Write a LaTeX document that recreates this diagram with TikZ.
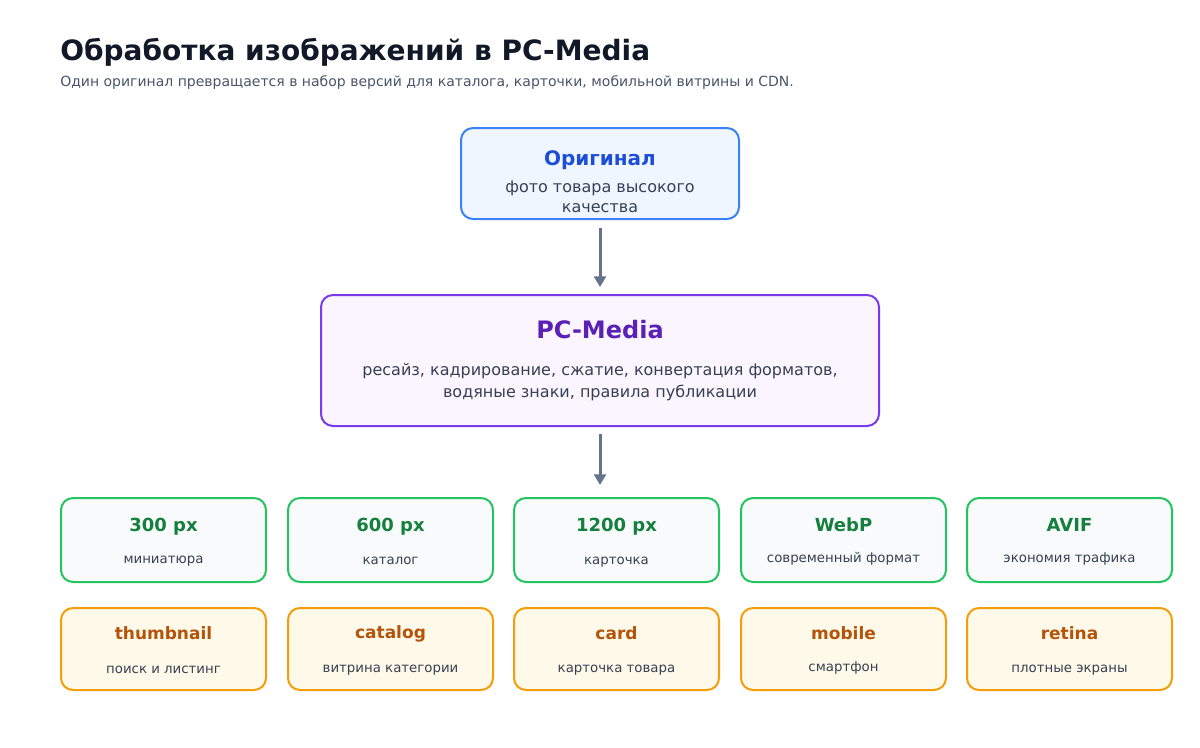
\documentclass[tikz,border=0pt]{standalone}
\usepackage{fontspec}
\setmainfont{DejaVu Sans}
\usetikzlibrary{arrows.meta}

\definecolor{ink}{HTML}{111827}
\definecolor{slate}{HTML}{475569}
\definecolor{body}{HTML}{374151}
\definecolor{arrowgray}{HTML}{64748B}
\definecolor{blueline}{HTML}{3B82F6}
\definecolor{bluefill}{HTML}{EFF6FF}
\definecolor{bluetext}{HTML}{1D4ED8}
\definecolor{violetline}{HTML}{7C3AED}
\definecolor{violetfill}{HTML}{FAF5FF}
\definecolor{violettext}{HTML}{5B21B6}
\definecolor{greenline}{HTML}{22C55E}
\definecolor{greenfill}{HTML}{F8FAFC}
\definecolor{greentext}{HTML}{15803D}
\definecolor{amberline}{HTML}{F59E0B}
\definecolor{amberfill}{HTML}{FEF9E8}
\definecolor{ambertext}{HTML}{B45309}

\tikzset{
  card/.style={draw,rounded corners=9pt,line width=1.5pt,inner sep=0pt},
  sizebox/.style={card,draw=greenline,fill=greenfill,minimum width=153.75pt,minimum height=63pt},
  usebox/.style={card,draw=amberline,fill=amberfill,minimum width=153.75pt,minimum height=61.5pt},
  label/.style={anchor=base,inner sep=0pt},
  sizetitle/.style={label,text=greentext,font=\fontsize{13.5}{16}\selectfont\bfseries},
  usetitle/.style={label,text=ambertext,font=\fontsize{12.75}{15}\selectfont\bfseries},
  cardnote/.style={label,text=body,font=\fontsize{10}{12}\selectfont},
  flow/.style={draw=arrowgray,line width=2.25pt,-{Triangle[width=9pt,length=8pt]}}
}

\begin{document}
\begin{tikzpicture}[x=0.75pt,y=-0.75pt]
    \useasboundingbox (0,0) rectangle (1200,747);

    \node[label,anchor=base west,text=ink,font=\fontsize{21}{25}\selectfont\bfseries] (title) at (60,60) {Обработка изображений в PC-Media};
    \node[label,anchor=base west,text=slate,font=\fontsize{10.5}{13}\selectfont] (subtitle) at (60,86) {Один оригинал превращается в набор версий для каталога, карточки, мобильной витрины и CDN.};

    \node[card,draw=blueline,fill=bluefill,minimum width=208.5pt,minimum height=68.25pt] (orig) at (600,173.5) {};
    \node[label,text=bluetext,font=\fontsize{15}{18}\selectfont\bfseries] (origtitle) at (600,165) {Оригинал};
    % base of a two-line node is the last line
    \node[label,text=body,font=\fontsize{12}{15}\selectfont,align=center] (orignote) at (600,212) {фото товара высокого\\качества};

    \node[card,draw=violetline,fill=violetfill,minimum width=418.5pt,minimum height=98.25pt] (pcm) at (600,360.5) {};
    \node[label,text=violettext,font=\fontsize{18}{22}\selectfont\bfseries] (pcmtitle) at (600,338) {PC-Media};
    \node[label,text=body,font=\fontsize{12}{16}\selectfont,align=center] (pcmnote) at (600,397) {ресайз, кадрирование, сжатие, конвертация форматов,\\водяные знаки, правила публикации};

    \coordinate (split) at (600,485);
    \draw[flow,shorten <=6pt,shorten >=5.25pt] (orig) -- (pcm);
    \draw[flow,shorten <=5.25pt] (pcm) -- (split);

    % sizes and formats
    \node[sizebox] (s300) at (163.5,540) {};
    \node[sizetitle] (s300t) at (163.5,531) {300 px};
    \node[cardnote] (s300n) at (163.5,563) {миниатюра};
    \node[sizebox] (s600) at (390.5,540) {};
    \node[sizetitle] (s600t) at (390.5,531) {600 px};
    \node[cardnote] (s600n) at (390.5,564) {каталог};
    \node[sizebox] (s1200) at (616.5,540) {};
    \node[sizetitle] (s1200t) at (616.5,531) {1200 px};
    \node[cardnote] (s1200n) at (616.5,564) {карточка};
    \node[sizebox] (webp) at (843.5,540) {};
    \node[sizetitle] (webpt) at (843.5,531) {WebP};
    \node[cardnote] (webpn) at (843.5,562) {современный формат};
    \node[sizebox] (avif) at (1069.5,540) {};
    \node[sizetitle] (avift) at (1069.5,531) {AVIF};
    \node[cardnote] (avifn) at (1069.5,562) {экономия трафика};

    % where they are used
    \node[usebox] (thumb) at (163.5,649) {};
    \node[usetitle] (thumbt) at (163.5,639) {thumbnail};
    \node[cardnote] (thumbn) at (163.5,673) {поиск и листинг};
    \node[usebox] (catalog) at (390.5,649) {};
    \node[usetitle] (catalogt) at (390.5,638) {catalog};
    \node[cardnote] (catalogn) at (390.5,672) {витрина категории};
    \node[usebox] (card) at (616.5,649) {};
    \node[usetitle] (cardt) at (616.5,639) {card};
    \node[cardnote] (cardn) at (616.5,672) {карточка товара};
    \node[usebox] (mobile) at (843.5,649) {};
    \node[usetitle] (mobilet) at (843.5,639) {mobile};
    \node[cardnote] (mobilen) at (843.5,671) {смартфон};
    \node[usebox] (retina) at (1069.5,649) {};
    \node[usetitle] (retinat) at (1069.5,639) {retina};
    \node[cardnote] (retinan) at (1069.5,672) {плотные экраны};
\end{tikzpicture}
\end{document}
